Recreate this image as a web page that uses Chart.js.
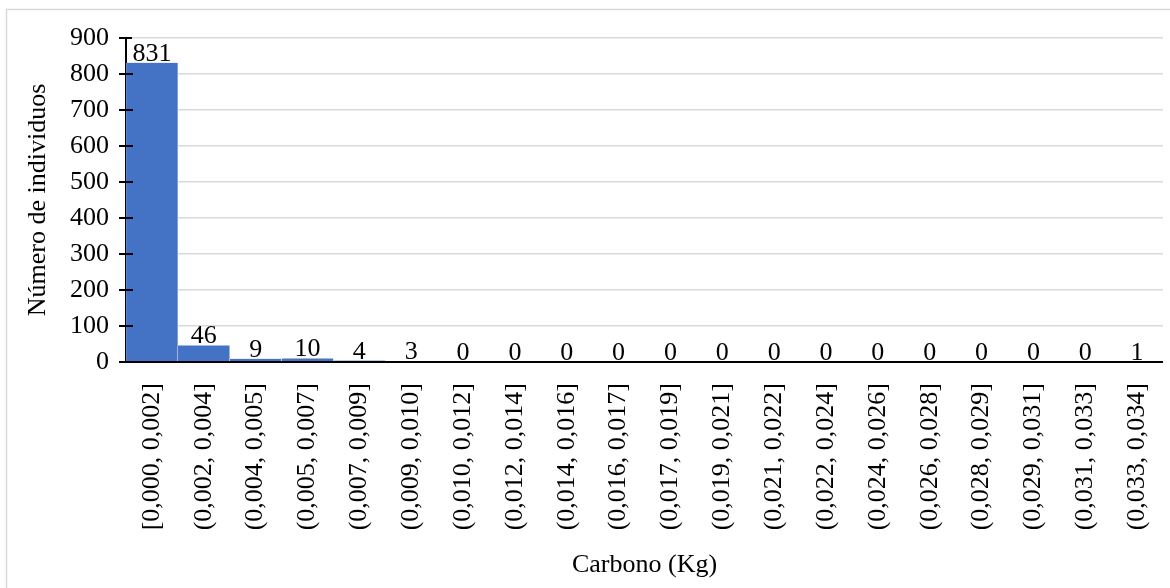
<!DOCTYPE html>
<html>
<head>
<meta charset="utf-8">
<script src="https://cdn.jsdelivr.net/npm/chart.js@4.4.1/dist/chart.umd.min.js"></script>
<style>
  html, body { margin: 0; padding: 0; background: #fff; }
  #wrap { width: 1170px; height: 588px; position: relative; }
</style>
</head>
<body>
<div id="wrap"><canvas id="histChart"></canvas></div>
<script>
// bins of carbon per individual (Kg) and counts
var binLabels = [
	'[0,000, 0,002]', '(0,002, 0,004]', '(0,004, 0,005]', '(0,005, 0,007]',
	'(0,007, 0,009]', '(0,009, 0,010]', '(0,010, 0,012]', '(0,012, 0,014]',
	'(0,014, 0,016]', '(0,016, 0,017]', '(0,017, 0,019]', '(0,019, 0,021]',
	'(0,021, 0,022]', '(0,022, 0,024]', '(0,024, 0,026]', '(0,026, 0,028]',
	'(0,028, 0,029]', '(0,029, 0,031]', '(0,031, 0,033]', '(0,033, 0,034]'
];
var counts = [831, 46, 9, 10, 4, 3, 0, 0, 0, 0, 0, 0, 0, 0, 0, 0, 0, 0, 0, 1];
var yTicks = [0, 100, 200, 300, 400, 500, 600, 700, 800, 900];

var FONT = "'Liberation Serif', 'Times New Roman', serif";

// frame around the whole figure (only top/left edges fall inside the canvas)
var framePlugin = {
	id: 'frame',
	beforeDraw: function(chart) {
		var ctx = chart.ctx;
		ctx.save();
		ctx.strokeStyle = '#d9d9d9';
		ctx.lineWidth = 1.5;
		ctx.strokeRect(6.5, 9.5, chart.width + 20, chart.height + 20);
		ctx.restore();
	}
};

// tick marks crossing the y axis + x axis line
var crossTicks = {
	id: 'crossTicks',
	afterDraw: function(chart) {
		var ctx = chart.ctx;
		var y = chart.scales.y;
		var x0 = chart.chartArea.left;
		ctx.save();
		ctx.strokeStyle = '#000';
		ctx.lineWidth = 2;
		yTicks.forEach(function(v) {
			var py = y.getPixelForValue(v);
			ctx.beginPath();
			ctx.moveTo(x0 - 7, py);
			ctx.lineTo(x0 + (v === 900 ? 6 : 7), py);
			ctx.stroke();
		});
		var by = y.getPixelForValue(0);
		ctx.beginPath();
		ctx.moveTo(x0 - 7, by);
		ctx.lineTo(chart.chartArea.right, by);
		ctx.stroke();
		ctx.restore();
	}
};

// count above each bar
var barValues = {
	id: 'barValues',
	afterDatasetsDraw: function(chart) {
		var ctx = chart.ctx;
		var meta = chart.getDatasetMeta(0);
		ctx.save();
		ctx.font = '26px ' + FONT;
		ctx.fillStyle = '#000';
		ctx.textAlign = 'center';
		ctx.textBaseline = 'alphabetic';
		meta.data.forEach(function(bar, i) {
			ctx.fillText(String(counts[i]), bar.x, bar.y - 2);
		});
		ctx.restore();
	}
};

var ctx = document.getElementById('histChart').getContext('2d');
var chart = new Chart(ctx, {
	type: 'bar',
	data: {
		labels: binLabels,
		datasets: [{
			data: counts,
			backgroundColor: '#4472c4',
			borderColor: '#ffffff',
			borderWidth: { left: 0.5, right: 0.5, top: 0, bottom: 0 },
			barPercentage: 1,
			categoryPercentage: 1
		}]
	},
	options: {
		responsive: true,
		maintainAspectRatio: false,
		animation: false,
		layout: { padding: { left: 8, top: 38, right: 7, bottom: 0 } },
		plugins: {
			legend: { display: false },
			tooltip: { enabled: false }
		},
		scales: {
			x: {
				grid: { display: false, drawTicks: false },
				border: { display: false },
				ticks: {
					color: '#000',
					font: { family: FONT, size: 26 },
					minRotation: 90,
					maxRotation: 90,
					autoSkip: false,
					padding: 21
				},
				title: {
					display: true,
					text: 'Carbono (Kg)',
					color: '#000',
					font: { family: FONT, size: 26 },
					padding: { top: 0, bottom: 7 }
				},
				afterFit: function(s) {
					s.height = 588 - 362;
					s.paddingLeft = 0;
					s.paddingRight = 0;
				}
			},
			y: {
				min: 0,
				max: 900,
				afterBuildTicks: function(s) {
					s.ticks = yTicks.map(function(v) { return { value: v }; });
				},
				grid: {
					color: function(c) { return c.tick.value === 0 ? 'rgba(0,0,0,0)' : '#d9d9d9'; },
					lineWidth: 1.5,
					drawTicks: false
				},
				border: { display: true, color: '#000', width: 2 },
				ticks: {
					color: '#000',
					font: { family: FONT, size: 26 },
					padding: 17
				},
				title: {
					display: true,
					text: 'Número de individuos',
					color: '#000',
					font: { family: FONT, size: 26 },
					padding: { top: 15, bottom: 0 }
				},
				afterFit: function(s) {
					s.width = 126 - 8;
					s.paddingTop = 0;
					s.paddingBottom = 0;
				}
			}
		}
	},
	plugins: [framePlugin, crossTicks, barValues]
});
</script>
</body>
</html>
